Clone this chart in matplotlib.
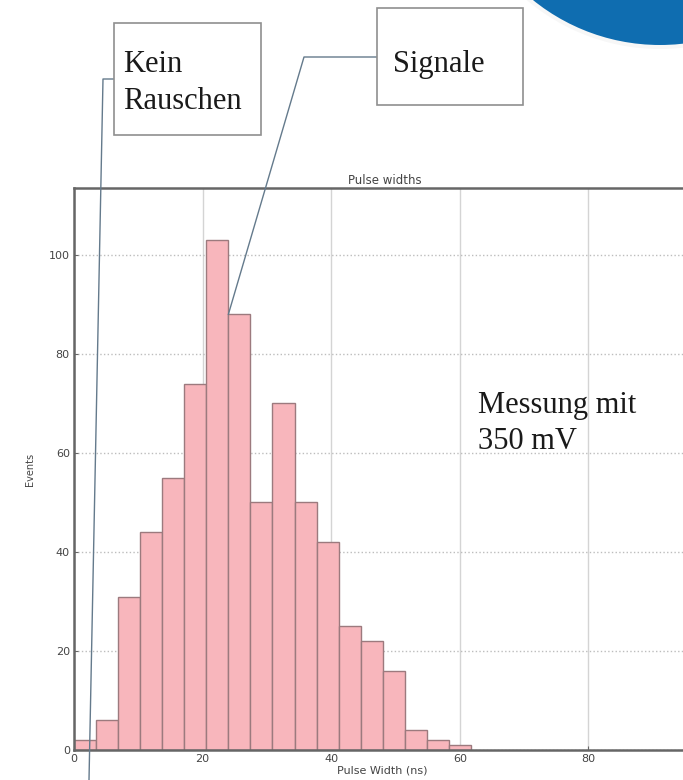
import matplotlib
matplotlib.use("Agg")
import matplotlib.pyplot as plt
import numpy as np
from matplotlib.lines import Line2D
from matplotlib.patches import Rectangle, Ellipse

# histogram data
bin_edges = [0, 3.43, 6.86, 10.29, 13.72, 17.15, 20.58, 24.01, 27.44, 30.87,
             34.30, 37.73, 41.16, 44.59, 48.02, 51.45, 54.88, 58.31, 61.74]
counts = [2, 6, 31, 44, 55, 74, 103, 88, 50, 70, 50, 42, 25, 22, 16, 4, 2, 1]
x_ticks = [0, 20, 40, 60, 80]
y_ticks = [0, 20, 40, 60, 80, 100]

W, H = 683, 780


def fpx(x, y):
    """pixel position (from top-left) -> figure fraction"""
    return x / W, 1 - y / H


fig = plt.figure(figsize=(W / 100, H / 100), dpi=100)
fig.patch.set_facecolor("white")

# axes extends past the right edge of the picture (cropped screenshot)
ax = fig.add_axes([74 / W, 30 / H, 643 / W, 562 / H])
ax.hist(bin_edges[:-1], bins=bin_edges, weights=counts,
        facecolor="#f8b6bc", edgecolor="#9c7a7e", linewidth=1.0, zorder=2)

ax.set_xlim(0, 100)
ax.set_ylim(0, 113.5)
ax.set_xticks(x_ticks)
ax.set_yticks(y_ticks)

ax.grid(axis="x", color="#d4d4d4", linestyle="-", linewidth=1.0, zorder=0)
ax.grid(axis="y", color="#bdbdbd", linestyle=":", linewidth=1.0, zorder=0)
ax.set_axisbelow(True)

for side in ["left", "top", "bottom", "right"]:
    ax.spines[side].set_color("#666666")
    ax.spines[side].set_linewidth(1.8)

ax.tick_params(axis="both", direction="in", length=3, width=0.8, colors="#666666",
               labelsize=8, labelcolor="#444444", pad=3)

ax.set_xlabel("Pulse Width (ns)", fontsize=8, color="#444444", va="center")
ax.xaxis.set_label_coords(0.48, -0.037)
ax.set_ylabel("Events", fontsize=7, color="#444444")
ax.yaxis.set_label_coords(-0.06, 0.5)
fig.text(*fpx(385, 181), "Pulse widths", fontsize=8.5, color="#444444",
         ha="center", va="center")

# annotation boxes
serif = ["Liberation Serif", "DejaVu Serif"]
box_col = "#8f8f8f"
line_col = "#647a8c"

fig.add_artist(Rectangle(fpx(114, 135), 147 / W, 112 / H, transform=fig.transFigure,
                         facecolor="white", edgecolor=box_col, linewidth=1.2, zorder=5))
fig.text(*fpx(123, 50), "Kein\nRauschen", family=serif, fontsize=22,
         color="#1a1a1a", ha="left", va="top", linespacing=1.38, zorder=6)

fig.add_artist(Rectangle(fpx(377, 105), 146 / W, 97 / H, transform=fig.transFigure,
                         facecolor="white", edgecolor=box_col, linewidth=1.2, zorder=5))
fig.text(*fpx(393, 50), "Signale", family=serif, fontsize=22,
         color="#1a1a1a", ha="left", va="top", zorder=6)

fig.text(*fpx(478, 391), "Messung mit\n350 mV", family=serif, fontsize=22,
         color="#1a1a1a", ha="left", va="top", linespacing=1.33, zorder=6)

# connector: "Kein Rauschen" down to the first bins
kx = [fpx(114, 79)[0], fpx(103, 79)[0], fpx(89, 780)[0]]
ky = [fpx(114, 79)[1], fpx(103, 79)[1], fpx(89, 780)[1]]
fig.add_artist(Line2D(kx, ky, transform=fig.transFigure, color=line_col,
                      linewidth=1.0, zorder=4))

# connector: "Signale" to top of the bin after the peak
fig.canvas.draw()
tip = ax.transData.transform((bin_edges[7], counts[7]))
tip = fig.transFigure.inverted().transform(tip)
sx = [fpx(377, 57)[0], fpx(304, 57)[0], tip[0]]
sy = [fpx(377, 57)[1], fpx(304, 57)[1], tip[1]]
fig.add_artist(Line2D(sx, sy, transform=fig.transFigure, color=line_col,
                      linewidth=1.0, zorder=4))

# blue slide decoration in the top-right corner
fig.add_artist(Ellipse(fpx(660, -157), 2 * 206 / W, 2 * 206 / H,
                       transform=fig.transFigure, facecolor="#f7f7f7",
                       edgecolor="none", zorder=7))
fig.add_artist(Ellipse(fpx(660, -157), 2 * 202 / W, 2 * 202 / H,
                       transform=fig.transFigure, facecolor="#0f6db0",
                       edgecolor="none", zorder=8))

fig.savefig("out.png", dpi=100, facecolor="white")
